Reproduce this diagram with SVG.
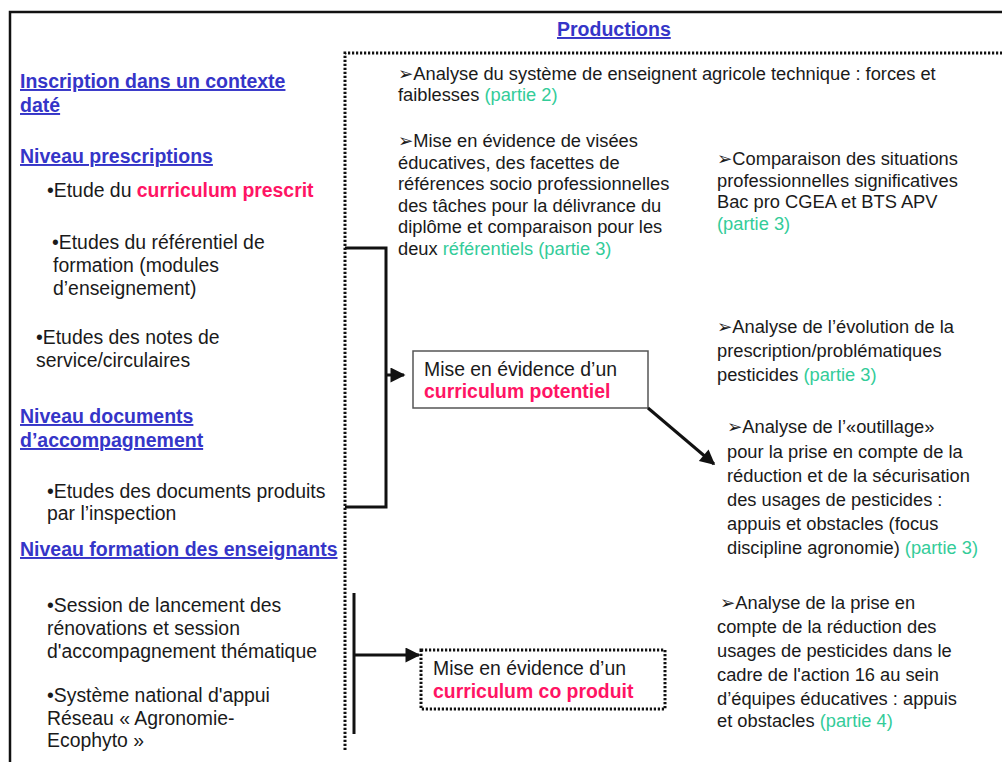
<svg xmlns="http://www.w3.org/2000/svg" width="1002" height="762" viewBox="0 0 1002 762">
<style>
text{font-family:"Liberation Sans","DejaVu Sans",Arial,sans-serif;fill:#1a1a1a}
.l{font-size:19.4px}
.r{font-size:18.3px}
.h{font-size:19.5px;font-weight:bold;fill:#3535c8;text-decoration:underline}
.pk{fill:#ff1464;font-weight:bold}
.g{fill:#33cc99}
.dot{fill:none;stroke:#111;stroke-width:3;stroke-dasharray:2.2 1.8}
.ln{fill:none;stroke:#111;stroke-width:3}
</style>
<defs>
<marker id="ah" viewBox="0 0 10 10" refX="9" refY="5" markerWidth="5.5" markerHeight="5" orient="auto" markerUnits="strokeWidth">
<path d="M0,0 L10,5 L0,10 z" fill="#111"/>
</marker>
</defs>
<rect width="1002" height="762" fill="#fff"/>
<path d="M10,762 V12 H1002" fill="none" stroke="#111" stroke-width="2.5"/>
<path class="dot" d="M345,750 V53 H1002"/>

<g id="productions"><text class="h" x="557" y="36">Productions</text></g>

<g id="left-inscription"><text class="h" x="20" y="88">Inscription dans un contexte</text><text class="h" x="20" y="112">daté</text></g>
<g id="left-prescriptions"><text class="h" x="20" y="163">Niveau prescriptions</text></g>
<g id="left-prescrit"><text class="l" x="47" y="197">•Etude du <tspan class="pk">curriculum prescrit</tspan></text></g>
<g id="left-referentiel"><text class="l" x="52" y="249">•Etudes du référentiel de</text><text class="l" x="53" y="272">formation (modules</text><text class="l" x="53" y="295">d’enseignement)</text></g>
<g id="left-notes"><text class="l" x="36" y="344">•Etudes des notes de</text><text class="l" x="36" y="367">service/circulaires</text></g>
<g id="left-documents"><text class="h" x="20" y="423">Niveau documents</text><text class="h" x="20" y="447">d’accompagnement</text></g>
<g id="left-inspection"><text class="l" x="47" y="498">•Etudes des documents produits</text><text class="l" x="47" y="520">par l’inspection</text></g>
<g id="left-formation"><text class="h" x="20" y="556">Niveau formation des enseignants</text></g>
<g id="left-session"><text class="l" x="47" y="612">•Session de lancement des</text><text class="l" x="47" y="635">rénovations et session</text><text class="l" x="47" y="658">d'accompagnement thématique</text></g>
<g id="left-systeme"><text class="l" x="47" y="702">•Système national d'appui</text><text class="l" x="47" y="725">Réseau « Agronomie-</text><text class="l" x="47" y="747">Ecophyto »</text></g>

<g id="r-analyse-systeme"><text class="r" x="398" y="80">➢Analyse du système de enseignent agricole technique : forces et</text><text class="r" x="398" y="101">faiblesses <tspan class="g">(partie 2)</tspan></text></g>
<g id="r-visees"><text class="r" x="398" y="147">➢Mise en évidence de visées</text><text class="r" x="398" y="169">éducatives, des facettes de</text><text class="r" x="398" y="190">références socio professionnelles</text><text class="r" x="398" y="212">des tâches pour la délivrance du</text><text class="r" x="398" y="233">diplôme et comparaison pour les</text><text class="r" x="398" y="255">deux <tspan class="g">référentiels (partie 3)</tspan></text></g>
<g id="r-comparaison"><text class="r" x="717" y="165">➢Comparaison des situations</text><text class="r" x="717" y="187">professionnelles significatives</text><text class="r" x="717" y="208">Bac pro CGEA et BTS APV</text><text class="r" x="717" y="230"><tspan class="g">(partie 3)</tspan></text></g>
<g id="r-evolution"><text class="r" x="717" y="333">➢Analyse de l’évolution de la</text><text class="r" x="717" y="357">prescription/problématiques</text><text class="r" x="717" y="381">pesticides <tspan class="g">(partie 3)</tspan></text></g>
<g id="r-outillage"><text class="r" x="727" y="433">➢Analyse de l’«outillage»</text><text class="r" x="727" y="458">pour la prise en compte de la</text><text class="r" x="727" y="482">réduction et de la sécurisation</text><text class="r" x="727" y="506">des usages de pesticides :</text><text class="r" x="727" y="530">appuis et obstacles (focus</text><text class="r" x="727" y="554">discipline agronomie) <tspan class="g">(partie 3)</tspan></text></g>
<g id="r-action16"><text class="r" x="720" y="609">➢Analyse de la prise en</text><text class="r" x="717" y="633">compte de la réduction des</text><text class="r" x="717" y="657">usages de pesticides dans le</text><text class="r" x="717" y="681">cadre de l'action 16 au sein</text><text class="r" x="717" y="705">d’équipes éducatives : appuis</text><text class="r" x="717" y="727">et obstacles <tspan class="g">(partie 4)</tspan></text></g>

<g id="box-potentiel"><rect x="413" y="351" width="235" height="57" fill="#fff" stroke="#555" stroke-width="1.5"/><text class="l" x="424" y="376">Mise en évidence d’un</text><text class="l" x="424" y="398"><tspan class="pk">curriculum potentiel</tspan></text></g>
<g id="box-coproduit"><rect class="dot" x="421" y="650" width="244" height="59"/><text class="l" x="433" y="675">Mise en évidence d’un</text><text class="l" x="433" y="698"><tspan class="pk">curriculum co produit</tspan></text></g>

<g id="connectors">
<path class="ln" d="M345,248 H386 V507 H345"/>
<path class="ln" d="M386,375 H404" marker-end="url(#ah)"/>
<path class="ln" d="M648,408 L714,464" marker-end="url(#ah)"/>
<path class="ln" d="M354,593 V734"/>
<path class="ln" d="M354,655 H419" marker-end="url(#ah)"/>
</g>
</svg>
